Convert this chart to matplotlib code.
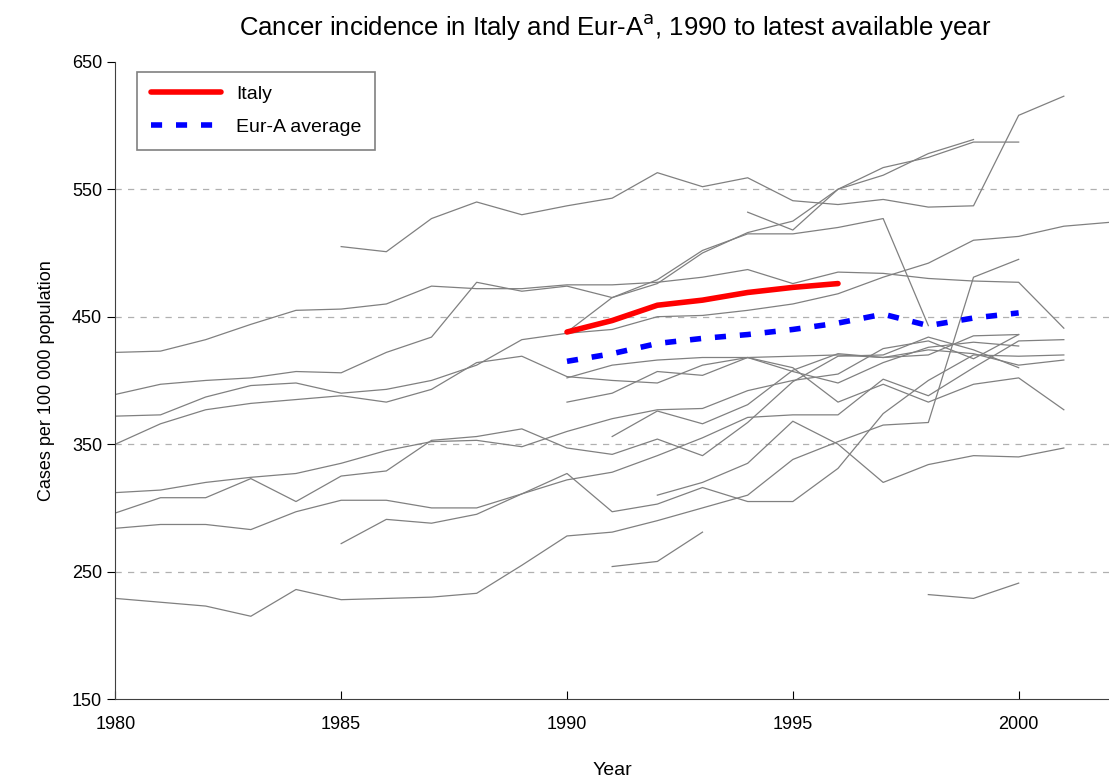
import numpy as np
import matplotlib
matplotlib.use("Agg")
import matplotlib.pyplot as plt

plt.rcParams['font.family'] = ['Liberation Sans', 'DejaVu Sans']

# Italy and Eur-A average
italy_years = list(range(1990, 1997))
italy_vals = [438, 447, 459, 463, 469, 473, 476]
eura_years = list(range(1990, 2001))
eura_vals = [415, 421, 429, 433, 436, 440, 445, 452, 443, 449, 453]

# other countries: (first year, values)
others = [
    (1985, [505, 501, 527, 540, 530, 537, 543, 563, 552, 559, 541, 538, 542, 536, 537, 608, 623]),
    (1980, [422, 423, 432, 444, 455, 456, 460, 474, 472, 472, 475, 475, 477, 481, 487, 476, 485, 484, 480, 478, 477, 441]),
    (1980, [389, 397, 400, 402, 407, 406, 422, 434, 477, 470, 474, 465, 479, 502, 515, 515, 520, 527, 443]),
    (1980, [372, 373, 387, 396, 398, 390, 393, 400, 412, 432, 437, 440, 450, 451, 455, 460, 468, 481, 492, 510, 513, 521, 524]),
    (1980, [350, 366, 377, 382, 385, 388, 383, 393, 414, 419, 403, 400, 398, 412, 418, 407, 398, 414, 426, 430, 427]),
    (1994, [532, 518, 550, 567, 575, 587, 587]),
    (1990, [438, 465, 476, 500, 516, 525, 550, 561, 578, 589]),
    (1980, [312, 314, 320, 324, 327, 335, 345, 352, 353, 348, 360, 370, 377, 378, 392, 400, 405, 425, 431, 417, 436]),
    (1980, [296, 308, 308, 323, 305, 325, 329, 353, 356, 362, 347, 342, 354, 341, 367, 399, 419, 420, 434, 424, 410]),
    (1980, [284, 287, 287, 283, 297, 306, 306, 300, 300, 311, 327, 297, 303, 316, 305, 305, 331, 374, 400, 420, 419, 420]),
    (1985, [272, 291, 288, 295, 311, 322, 328, 341, 355, 371, 373, 373, 401, 388, 410, 431, 432]),
    (1980, [229, 226, 223, 215, 236, 228, 229, 230, 233, 255, 278, 281, 290, 300, 310, 338, 352, 365, 367, 481, 495]),
    (1991, [254, 258, 281]),
    (1998, [232, 229, 241]),
    (1992, [310, 320, 335, 368, 350, 320, 334, 341, 340, 347]),
    (1990, [383, 390, 407, 404, 418, 410, 383, 397, 383, 397, 402, 377]),
    (1990, [402, 412, 416, 418, 418, 419, 420, 418, 420, 435, 436]),
    (1991, [356, 376, 366, 381, 408, 421, 418, 424, 421, 412, 416]),
]

fig = plt.figure(figsize=(11.09, 7.82), dpi=100)
ax = fig.add_axes([0.104, 0.106, 0.896, 0.815])

for start, vals in others:
    yrs = np.arange(start, start + len(vals))
    ax.plot(yrs, vals, color="#808080", lw=0.9)

ax.plot(italy_years, italy_vals, color="red", lw=4, solid_capstyle="round", label="Italy")
ax.plot(eura_years, eura_vals, color="blue", lw=4, ls=(0, (2, 2.5)), label="Eur-A average")

ax.set_xlim(1980, 2002)
ax.set_ylim(150, 650)
ax.set_xticks([1980, 1985, 1990, 1995, 2000])
ax.set_yticks([150, 250, 350, 450, 550, 650])
for y in [250, 350, 450, 550]:
    ax.axhline(y, color="#b0b0b0", ls=(0, (5, 5)), lw=0.9, zorder=0)
ax.spines["top"].set_visible(False)
ax.spines["right"].set_visible(False)
ax.spines["left"].set_color("#404040")
ax.spines["bottom"].set_color("#404040")
ax.tick_params(labelsize=13, direction="out", length=6)
ax.tick_params(axis="x", direction="in", pad=12)
ax.set_xlabel("Year", fontsize=14, labelpad=21)
ax.set_ylabel("Cases per 100 000 population", fontsize=13, labelpad=12)
fig.suptitle("Cancer incidence in Italy and Eur-A$^{\\mathrm{a}}$, 1990 to latest available year",
             fontsize=18.5, x=0.555, y=0.985)

leg = ax.legend(loc="upper left", bbox_to_anchor=(0.012, 1.0), fontsize=14, fancybox=False,
                handlelength=3.6, borderpad=0.7, labelspacing=0.8, framealpha=1)
leg.get_frame().set_edgecolor("#808080")
leg.get_frame().set_linewidth(1.2)
fig.savefig("out.png", dpi=100)
